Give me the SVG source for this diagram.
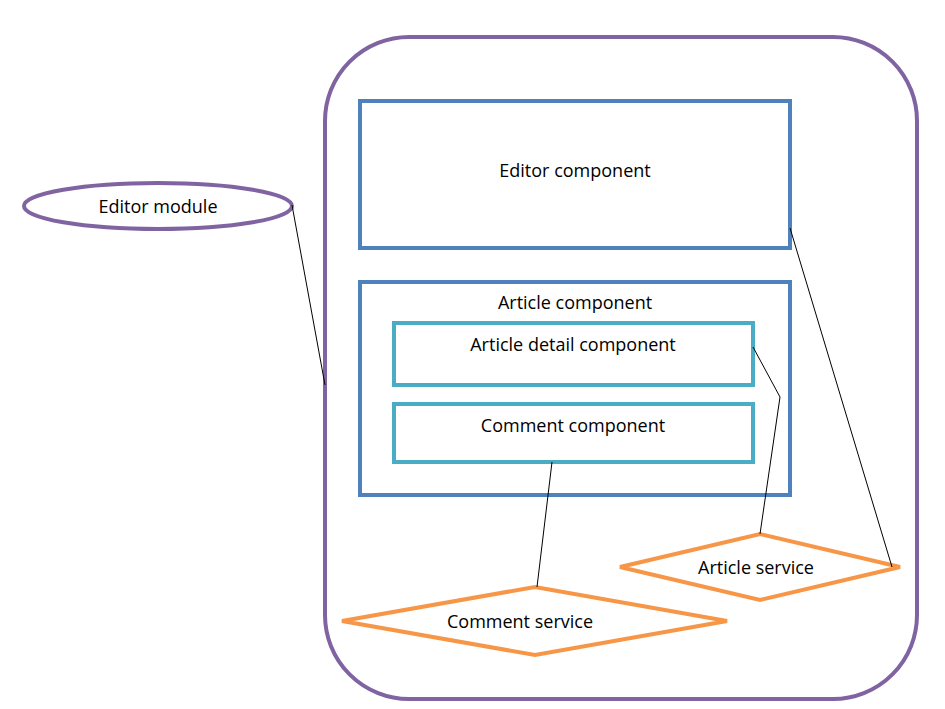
<svg xmlns="http://www.w3.org/2000/svg" width="945" height="709" viewBox="0 0 945 709">
<style>
text{font-family:"Open Sans","Liberation Sans",sans-serif;font-size:18px;fill:#000;text-anchor:middle;dominant-baseline:middle}
.mod{fill:#fff;stroke:#8064A2;stroke-width:4}
.comp{fill:#fff;stroke:#4F81BD;stroke-width:4}
.sub{fill:#fff;stroke:#4BACC6;stroke-width:4}
.svc{fill:#fff;stroke:#F79646;stroke-width:4}
.con{fill:none;stroke:#000;stroke-width:1}
</style>
<rect width="945" height="709" fill="#fff"/>
<g id="module-box"><rect class="mod" x="325" y="37" width="592" height="662" rx="84" ry="84"/></g>
<g id="editor-module"><ellipse class="mod" cx="158" cy="206" rx="134" ry="23"/><text x="158" y="208">Editor module</text></g>
<g id="editor-component"><rect class="comp" x="360" y="101" width="430" height="147"/><text x="575" y="172">Editor component</text></g>
<g id="article-component"><rect class="comp" x="360" y="282" width="430" height="213"/><text x="575" y="304">Article component</text></g>
<g id="article-detail-component"><rect class="sub" x="394" y="323" width="359" height="62"/><text x="573" y="346">Article detail component</text></g>
<g id="comment-component"><rect class="sub" x="394" y="404" width="359" height="58"/><text x="573" y="427">Comment component</text></g>
<g id="article-service"><polygon class="svc" points="620,567 760,534 900,567 760,600"/><text x="756" y="569">Article service</text></g>
<g id="comment-service"><polygon class="svc" points="342,621 535,587 727,621 535,655"/><text x="520" y="623">Comment service</text></g>
<g id="connectors">
<line class="con" x1="292" y1="205" x2="325" y2="385"/>
<line class="con" x1="790" y1="228" x2="892" y2="567"/>
<polyline class="con" points="753,347 780,397 760,534"/>
<line class="con" x1="552" y1="462" x2="537" y2="587"/>
</g>
</svg>
